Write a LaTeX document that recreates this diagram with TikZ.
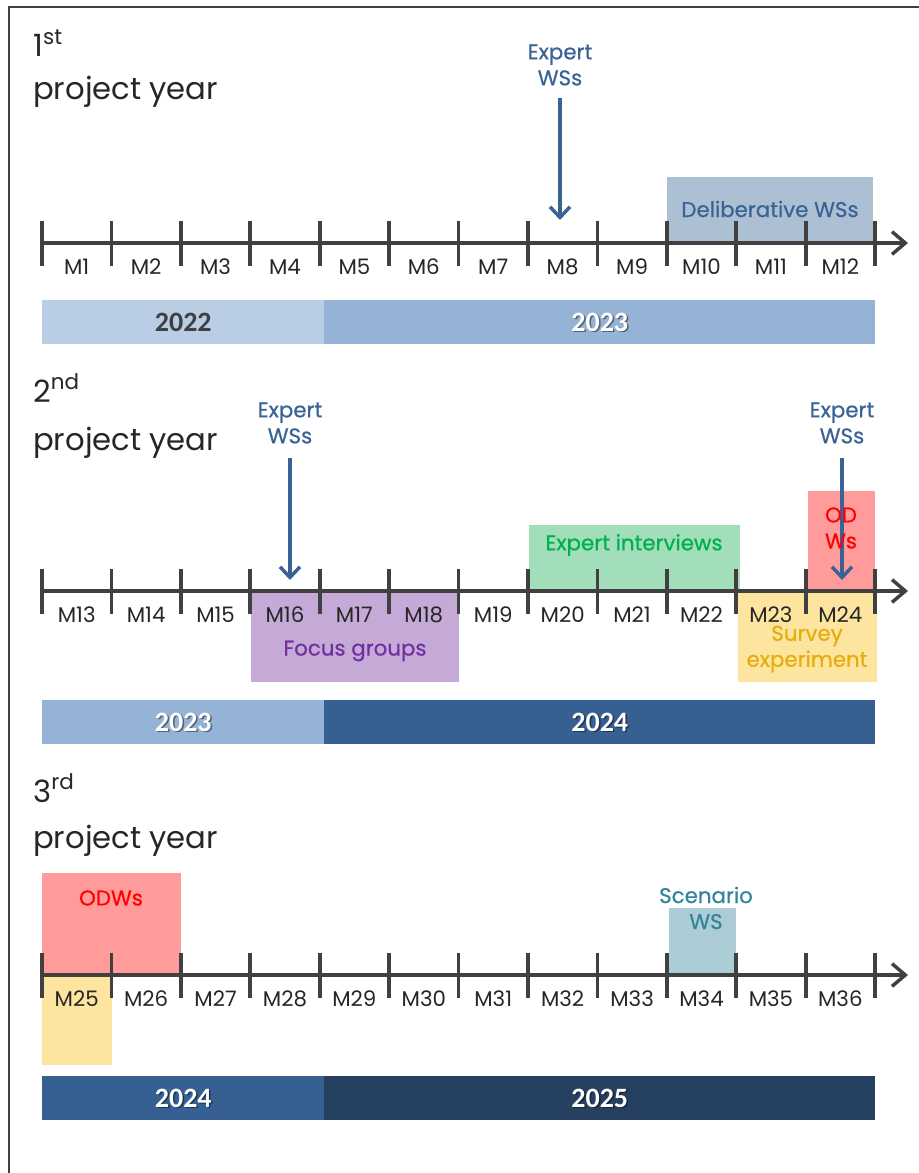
\documentclass[tikz,border=0pt]{standalone}
\usepackage{fontspec}
\setmainfont{Poppins}
\newfontfamily\medfont[FakeBold=0.6]{Poppins}
\newfontfamily\yearfont{Carlito}
\usetikzlibrary{arrows.meta,positioning,calc}
\definecolor{axisgray}{HTML}{404040}
\definecolor{monthtxt}{HTML}{262626}
\definecolor{expblue}{HTML}{3A6395}
\definecolor{delibfill}{HTML}{ADBFD3}
\definecolor{focusfill}{HTML}{C5A9D7}
\definecolor{focustxt}{HTML}{7030A0}
\definecolor{intfill}{HTML}{A1DEB9}
\definecolor{inttxt}{HTML}{00B050}
\definecolor{odfill}{HTML}{FF9B9B}
\definecolor{odtxt}{HTML}{FF0000}
\definecolor{survfill}{HTML}{FDE5A0}
\definecolor{survtxt}{HTML}{E5AE0C}
\definecolor{scenfill}{HTML}{ADCDD6}
\definecolor{scentxt}{HTML}{31859C}
\definecolor{yrA}{HTML}{B9CDE5}
\definecolor{yrB}{HTML}{95B3D7}
\definecolor{yrC}{HTML}{366092}
\definecolor{yrD}{HTML}{254061}
\tikzset{
  axisline/.style={draw=axisgray, line width=2.6pt,
    -{Straight Barb[length=10pt,width=17pt,line width=2.6pt]}},
  tick/.style={draw=axisgray, line width=2.8pt},
  month/.style={font=\fontsize{16}{18}\selectfont, text=monthtxt, inner sep=0pt},
  yrtitle/.style={font=\fontsize{23}{26}\selectfont, text=black!85, inner sep=0pt, anchor=base west},
  expert/.style={font=\medfont\fontsize{16}{19.5}\selectfont, text=expblue, align=center, inner sep=0pt},
  exparrow/.style={draw=expblue, line width=2.6pt,
    -{Straight Barb[length=8pt,width=15pt,line width=2.6pt]}},
  act/.style={font=\medfont\fontsize{16}{19.5}\selectfont, align=center, inner sep=0pt},
  yearbar/.style={inner sep=0pt, minimum height=33pt, anchor=north west},
  yeartxt/.style={font=\yearfont\bfseries\fontsize{21}{24}\selectfont, text=white, inner sep=0pt},
  yearshadow/.style={font=\yearfont\bfseries\fontsize{21}{24}\selectfont, text=black, opacity=0.45, inner sep=0pt}
}
\begin{document}
\begin{tikzpicture}[x=0.75pt,y=-0.75pt]
\useasboundingbox (0,0) rectangle (919,1173);
\draw[axisgray, line width=1.1pt] (9,1173) -- (9,7) -- (919,7);

\fill[delibfill] (667,177) rectangle (873,243);
\fill[focusfill] (251,591) rectangle (459,682);
\fill[intfill] (529,525) rectangle (740,591);
\fill[odfill] (808,491) rectangle (875,591);
\fill[survfill] (738,591) rectangle (877,682);
\fill[odfill] (42,873) rectangle (181,975);
\fill[survfill] (42,975) rectangle (112,1065);
\fill[scenfill] (669,908) rectangle (736,975);

\foreach \r/\yy in {0/243,1/591,2/975}{
  \coordinate (ax\r s) at (42,\yy);
  \coordinate (ax\r e) at (908,\yy);
  \draw[axisline] (ax\r s) -- (ax\r e);
  \foreach \i in {0,...,12}
    \draw[tick] (42+\i*69.42,\yy-22) -- (42+\i*69.42,\yy+23);
  \foreach \i in {1,...,12}{
    \pgfmathtruncatemacro{\m}{\r*12+\i}
    \node[month] (m\m) at (42+\i*69.42-34.71,\yy+24) {M\m};
  }
}

\node[yrtitle] (t1n) at (33,57) {1\textsuperscript{st}};
\node[yrtitle] (t1p) at (33,100) {project year};
\node[yrtitle] (t2n) at (33,402) {2\textsuperscript{nd}};
\node[yrtitle] (t2p) at (33,450) {project year};
\node[yrtitle] (t3n) at (33,802) {3\textsuperscript{rd}};
\node[yrtitle] (t3p) at (33,848) {project year};

\node[expert] (ew1) at (560,65) {Expert\\WSs};
\coordinate (ew1t) at (560,220);
\draw[exparrow] (ew1.south |- 0,98) -- (ew1t);
\node[expert] (ew2) at (290,423) {Expert\\WSs};
\coordinate (ew2t) at (290,580);
\draw[exparrow] (ew2.south |- 0,458) -- (ew2t);
\node[expert] (ew3) at (842,423) {Expert\\WSs};
\coordinate (ew3t) at (842,580);
\draw[exparrow] (ew3.south |- 0,458) -- (ew3t);

\node[act, text=expblue] (delib) at (770,209) {Deliberative WSs};
\node[act, text=focustxt] (focus) at (355,651) {Focus groups};
\node[act, text=inttxt] (inter) at (634,545) {Expert interviews};
\node[act, text=odtxt] (odws) at (841,528) {OD\\Ws};
\node[act, text=survtxt] (surv) at (807,649) {Survey\\experiment};
\node[act, text=odtxt] (odw3) at (111,898) {ODWs};
\node[act, text=scentxt] (scen) at (706,908) {Scenario\\WS};

\node[yearbar, fill=yrA, minimum width=211.5pt] (y1a) at (42,300) {};
\node[yeartxt, text=axisgray] (y1at) at (y1a.center) {2022};
\node[yearbar, fill=yrB, minimum width=413.25pt] (y1b) at (324,300) {};
\node[yearshadow] (y1bs) at ([shift={(1.5,1.5)}]y1b.center) {2023};
\node[yeartxt] (y1bt) at (y1b.center) {2023};

\node[yearbar, fill=yrB, minimum width=211.5pt] (y2a) at (42,700) {};
\node[yearshadow] (y2as) at ([shift={(1.5,1.5)}]y2a.center) {2023};
\node[yeartxt] (y2at) at (y2a.center) {2023};
\node[yearbar, fill=yrC, minimum width=413.25pt] (y2b) at (324,700) {};
\node[yearshadow] (y2bs) at ([shift={(1.5,1.5)}]y2b.center) {2024};
\node[yeartxt] (y2bt) at (y2b.center) {2024};

\node[yearbar, fill=yrC, minimum width=211.5pt] (y3a) at (42,1076) {};
\node[yearshadow] (y3as) at ([shift={(1.5,1.5)}]y3a.center) {2024};
\node[yeartxt] (y3at) at (y3a.center) {2024};
\node[yearbar, fill=yrD, minimum width=413.25pt] (y3b) at (324,1076) {};
\node[yearshadow] (y3bs) at ([shift={(1.5,1.5)}]y3b.center) {2025};
\node[yeartxt] (y3bt) at (y3b.center) {2025};
\end{tikzpicture}
\end{document}
